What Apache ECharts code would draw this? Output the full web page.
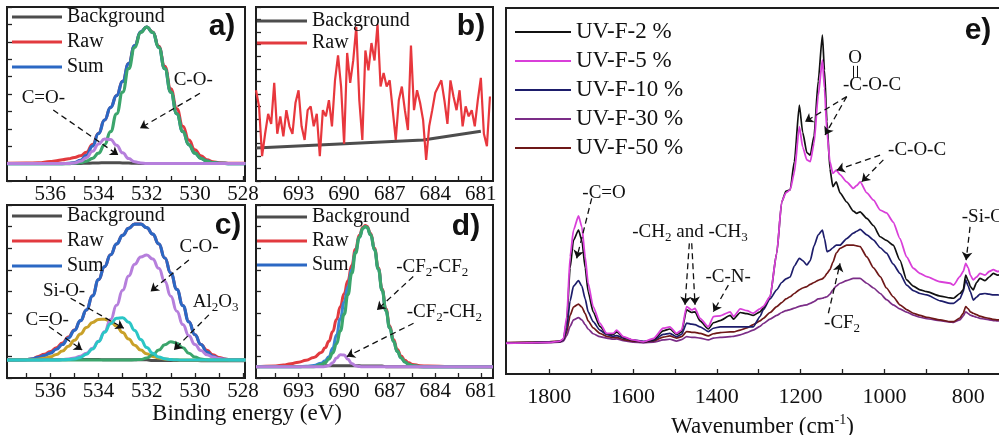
<!DOCTYPE html>
<html>
<head>
<meta charset="utf-8">
<script src="https://cdn.jsdelivr.net/npm/echarts@6/dist/echarts.min.js"></script>
<style>
  html, body { margin: 0; padding: 0; background: #fff; overflow: hidden; }
  #chart { width: 999px; height: 435px; }
</style>
</head>
<body>
<div id="chart"></div>
<script>
// ---------- a) O 1s ----------
const a_energy = [537.8, 537, 536.5, 536, 535.75, 535.5, 535.25, 535, 534.75, 534.5, 534.25, 534, 533.75, 533.5, 533.25, 533, 532.75, 532.5, 532.25, 532, 531.75, 531.5, 531.25, 531, 530.75, 530.5, 530.25, 530, 529.75, 529.5, 529.25, 529, 528.5, 527.9];
const a_background = [1.0, 1.0, 1.0, 1.0, 1.0, 1.0, 1.0, 1.0, 1.01, 1.02, 1.03, 1.04, 1.05, 1.05, 1.05, 1.04, 1.03, 1.02, 1.01, 1.0, 1.0, 1.0, 1.0, 1.0, 1.0, 1.0, 1.0, 1.0, 1.0, 1.0, 1.0, 1.0, 1.0, 1.0];
const a_raw = [1.02, 1.03, 1.05, 1.12, 1.17, 1.22, 1.28, 1.35, 1.45, 1.65, 2.1, 2.75, 3.5, 4.23, 4.91, 5.73, 6.75, 7.78, 8.57, 8.85, 8.56, 7.75, 6.6, 5.3, 4.15, 3.15, 2.35, 1.8, 1.45, 1.22, 1.1, 1.05, 1.02, 1.02];
const a_sum = [1.0, 1.0, 1.0, 1.0, 1.0, 1.0, 1.01, 1.06, 1.19, 1.48, 2.01, 2.73, 3.5, 4.23, 4.91, 5.73, 6.75, 7.78, 8.57, 8.85, 8.54, 7.68, 6.46, 5.11, 3.86, 2.84, 2.08, 1.6, 1.3, 1.14, 1.06, 1.02, 1.0, 1.0];
const a_cO = [1.0, 1.0, 1.0, 1.0, 1.0, 1.0, 1.0, 1.02, 1.06, 1.14, 1.3, 1.6, 2.08, 2.84, 3.86, 5.11, 6.46, 7.68, 8.54, 8.85, 8.54, 7.68, 6.46, 5.11, 3.86, 2.84, 2.08, 1.6, 1.3, 1.14, 1.06, 1.02, 1.0, 1.0];
const a_cdO = [1.0, 1.0, 1.0, 1.0, 1.0, 1.0, 1.01, 1.04, 1.13, 1.34, 1.71, 2.13, 2.42, 2.39, 2.05, 1.62, 1.29, 1.1, 1.03, 1.0, 1.0, 1.0, 1.0, 1.0, 1.0, 1.0, 1.0, 1.0, 1.0, 1.0, 1.0, 1.0, 1.0, 1.0];

// ---------- b) F 1s (sample 1) ----------
const b_energy = [695.8, 695.6, 695.4, 695.2, 695.0, 694.8, 694.6, 694.4, 694.2, 694.0, 693.8, 693.6, 693.4, 693.2, 693.0, 692.8, 692.6, 692.4, 692.2, 692.0, 691.8, 691.6, 691.4, 691.2, 691.0, 690.8, 690.6, 690.4, 690.2, 690.0, 689.8, 689.6, 689.4, 689.2, 689.0, 688.8, 688.6, 688.4, 688.2, 688.0, 687.8, 687.6, 687.4, 687.2, 687.0, 686.8, 686.6, 686.4, 686.2, 686.0, 685.8, 685.6, 685.4, 685.2, 685.0, 684.8, 684.6, 684.4, 684.2, 684.0, 683.8, 683.6, 683.4, 683.2, 683.0, 682.8, 682.6, 682.4, 682.2, 682.0, 681.8, 681.6, 681.4, 681.2, 681.0, 680.8, 680.6, 680.4];
const b_raw = [7.3, 6.0, 2.0, 3.8, 5.4, 4.6, 7.9, 3.8, 5.2, 3.6, 5.7, 4.4, 3.8, 6.3, 7.3, 4.4, 3.3, 5.7, 6.0, 4.4, 5.4, 2.0, 5.7, 5.2, 6.5, 4.4, 8.1, 10.1, 7.6, 3.0, 10.3, 7.9, 9.7, 12.4, 6.5, 3.3, 10.5, 8.9, 11.1, 9.7, 12.6, 7.6, 8.7, 7.6, 8.1, 5.7, 3.3, 6.5, 7.6, 5.7, 4.1, 10.9, 5.7, 7.3, 6.3, 4.9, 1.7, 4.4, 5.7, 7.1, 7.6, 8.1, 6.5, 4.6, 8.1, 6.8, 5.7, 7.3, 4.4, 6.0, 5.2, 5.7, 4.4, 6.5, 8.3, 3.8, 2.8, 6.8];
const b_bgEnergy = [695.8, 684.8, 681.0];
const b_background = [2.65, 3.3, 4.0];

// ---------- c) O 1s (sample 2) ----------
const c_energy = [537.8, 537, 536.75, 536.5, 536.25, 536, 535.75, 535.5, 535.25, 535, 534.75, 534.5, 534.25, 534, 533.75, 533.5, 533.25, 533, 532.75, 532.5, 532.25, 532, 531.75, 531.5, 531.25, 531, 530.75, 530.5, 530.25, 530, 529.75, 529.5, 529.25, 529, 528.75, 528.5, 527.9];
const c_background = [0.86, 0.86, 0.86, 0.86, 0.86, 0.86, 0.86, 0.86, 0.86, 0.86, 0.86, 0.86, 0.86, 0.86, 0.84, 0.84, 0.84, 0.84, 0.84, 0.84, 0.84, 0.84, 0.81, 0.81, 0.81, 0.81, 0.81, 0.81, 0.81, 0.81, 0.80, 0.80, 0.80, 0.80, 0.80, 0.80, 0.80];
const c_raw = [0.83, 0.85, 0.88, 1.0, 1.1, 1.22, 1.4, 1.62, 1.9, 2.22, 2.65, 3.15, 3.8, 4.55, 5.15, 5.7, 6.2, 6.6, 6.92, 7.12, 7.12, 6.95, 6.65, 6.2, 5.55, 4.85, 4.1, 3.35, 2.6, 2.0, 1.55, 1.28, 1.08, 0.95, 0.88, 0.84, 0.83];
const c_sum = [0.83, 0.85, 0.88, 0.95, 1.04, 1.15, 1.33, 1.55, 1.85, 2.2, 2.65, 3.15, 3.8, 4.55, 5.15, 5.7, 6.2, 6.6, 6.92, 7.12, 7.12, 6.95, 6.65, 6.2, 5.55, 4.85, 4.1, 3.35, 2.6, 2.0, 1.55, 1.2, 1.0, 0.9, 0.86, 0.84, 0.83];
const c_cdO = [0.83, 0.84, 0.85, 0.87, 0.91, 0.98, 1.09, 1.25, 1.47, 1.74, 2.04, 2.33, 2.57, 2.71, 2.72, 2.60, 2.39, 2.10, 1.80, 1.52, 1.29, 1.12, 1.00, 0.92, 0.88, 0.85, 0.84, 0.83, 0.83, 0.83, 0.83, 0.83, 0.83, 0.83, 0.83, 0.83, 0.83];
const c_cO = [0.83, 0.83, 0.83, 0.83, 0.84, 0.84, 0.84, 0.85, 0.88, 0.92, 1.01, 1.15, 1.37, 1.70, 2.14, 2.70, 3.36, 4.06, 4.72, 5.26, 5.60, 5.69, 5.50, 5.07, 4.47, 3.78, 3.09, 2.47, 1.95, 1.55, 1.27, 1.08, 0.97, 0.90, 0.86, 0.84, 0.83];
const c_al2o3 = [0.83, 0.83, 0.83, 0.83, 0.83, 0.83, 0.83, 0.83, 0.83, 0.83, 0.83, 0.83, 0.83, 0.83, 0.83, 0.83, 0.83, 0.83, 0.83, 0.84, 0.86, 0.92, 1.07, 1.29, 1.54, 1.68, 1.61, 1.40, 1.15, 0.97, 0.88, 0.84, 0.83, 0.83, 0.83, 0.83, 0.83];
const c_siO = [0.83, 0.83, 0.83, 0.83, 0.83, 0.83, 0.83, 0.84, 0.85, 0.88, 0.95, 1.10, 1.34, 1.69, 2.11, 2.51, 2.76, 2.79, 2.58, 2.20, 1.78, 1.41, 1.14, 0.97, 0.89, 0.85, 0.84, 0.83, 0.83, 0.83, 0.83, 0.83, 0.83, 0.83, 0.83, 0.83, 0.83];

// ---------- d) F 1s (sample 2) ----------
const d_energy = [695.8, 694.5, 694, 693.5, 693, 692.5, 692, 691.5, 691.25, 691, 690.75, 690.5, 690.25, 690, 689.75, 689.5, 689.25, 689, 688.75, 688.6, 688.5, 688.25, 688, 687.75, 687.5, 687.25, 687, 686.75, 686.5, 686.25, 686, 685.75, 685.5, 685, 684.5, 683, 680.2];
const d_background = [0.53, 0.53, 0.53, 0.53, 0.53, 0.53, 0.53, 0.53, 0.57, 0.57, 0.57, 0.57, 0.57, 0.57, 0.57, 0.57, 0.57, 0.57, 0.55, 0.55, 0.55, 0.55, 0.55, 0.55, 0.55, 0.52, 0.52, 0.52, 0.52, 0.52, 0.52, 0.52, 0.52, 0.52, 0.52, 0.52, 0.52];
const d_raw = [0.52, 0.55, 0.6, 0.66, 0.73, 0.82, 0.95, 1.18, 1.4, 1.7, 2.15, 2.7, 3.3, 3.9, 4.5, 5.2, 5.95, 6.6, 6.98, 7.05, 7.02, 6.68, 6.0, 5.1, 4.12, 3.2, 2.4, 1.78, 1.32, 1.02, 0.82, 0.7, 0.63, 0.57, 0.55, 0.53, 0.52];
const d_sum = [0.52, 0.52, 0.52, 0.52, 0.52, 0.54, 0.58, 0.68, 0.8, 0.98, 1.38, 1.99, 2.74, 3.49, 4.21, 4.99, 5.82, 6.51, 6.93, 7.0, 6.97, 6.62, 5.93, 5.04, 4.06, 3.12, 2.32, 1.69, 1.23, 0.93, 0.74, 0.63, 0.57, 0.53, 0.52, 0.52, 0.52];
const d_cf2cf2 = [0.52, 0.52, 0.52, 0.52, 0.52, 0.52, 0.52, 0.62, 0.71, 0.88, 1.16, 1.58, 2.18, 2.95, 3.86, 4.84, 5.77, 6.50, 6.93, 7.0, 6.97, 6.62, 5.93, 5.04, 4.06, 3.12, 2.32, 1.69, 1.23, 0.93, 0.74, 0.63, 0.57, 0.53, 0.52, 0.52, 0.52];
const d_cf2ch2 = [0.52, 0.52, 0.52, 0.52, 0.52, 0.52, 0.52, 0.52, 0.53, 0.58, 0.71, 0.92, 1.08, 1.06, 0.87, 0.67, 0.57, 0.53, 0.52, 0.52, 0.52, 0.52, 0.52, 0.52, 0.52, 0.52, 0.52, 0.52, 0.52, 0.52, 0.52, 0.52, 0.52, 0.52, 0.52, 0.52, 0.52];

// ---------- e) FTIR ----------
const wavenumber = [1903, 1850, 1800, 1775, 1766, 1758, 1750, 1742, 1730, 1722, 1714, 1707, 1695, 1679, 1663, 1647, 1639, 1623, 1600, 1575, 1551, 1528, 1512, 1496, 1484, 1472, 1460, 1452, 1440, 1420, 1408, 1392, 1368, 1360, 1344, 1328, 1313, 1297, 1289, 1273, 1257, 1245, 1235, 1225, 1215, 1203, 1195, 1185, 1177, 1168, 1158, 1148, 1143, 1137, 1130, 1123, 1115, 1106, 1090, 1074, 1066, 1058, 1042, 1026, 1010, 995, 979, 963, 947, 931, 915, 899, 867, 843, 835, 820, 812, 806, 800, 795, 788, 780, 772, 760, 750, 740, 730, 717];
const uvF2 = [8.4, 8.5, 8.6, 8.8, 9.5, 14.5, 29, 36.5, 39.3, 36.5, 29, 22.5, 17.0, 13.0, 11.0, 10.8, 11.5, 10.0, 9.2, 8.7, 9.4, 11.8, 12.3, 10.8, 11.5, 17.5, 16.8, 17.0, 14.5, 12.3, 14.0, 14.6, 16.0, 15.0, 16.8, 16.5, 16.0, 17.0, 18.0, 21.0, 33.0, 47.0, 50.0, 50.3, 58.0, 73.5, 66.0, 60.5, 59.8, 65.0, 80.0, 92.6, 83.0, 69.0, 56.0, 51.2, 52.5, 49.5, 47.0, 44.5, 43.9, 44.3, 42.5, 40.5, 37.5, 36.5, 35.2, 31.1, 25.7, 24.0, 23.0, 22.5, 21.3, 20.8, 20.7, 22.0, 23.0, 27.0, 25.5, 23.9, 23.0, 25.0, 26.1, 25.5, 26.5, 27.5, 27.0, 27.5];
const uvF5 = [8.4, 8.5, 8.6, 8.9, 9.6, 15.7, 32, 39.3, 43.2, 40.2, 32, 24.8, 18.4, 13.9, 11.1, 11.1, 12.0, 10.2, 9.3, 8.8, 9.7, 12.5, 12.9, 11.1, 12.0, 18.4, 17.5, 17.9, 15.2, 12.9, 15.7, 15.9, 17.0, 15.7, 17.8, 17.3, 16.6, 17.8, 18.5, 21.1, 33.0, 47.1, 49.5, 50.3, 55.0, 67.6, 62.0, 58.5, 58.0, 63.0, 76.0, 85.8, 78.0, 66.0, 58.0, 54.8, 55.7, 54.5, 52.5, 50.7, 51.5, 52.5, 49.5, 47.5, 44.8, 44.0, 41.5, 37.0, 32.0, 28.9, 27.5, 26.6, 25.2, 24.8, 24.3, 26.6, 28.0, 30.2, 29.0, 27.0, 25.7, 26.5, 27.5, 27.0, 28.0, 28.5, 28.0, 28.5];
const uvF10 = [8.5, 8.6, 8.7, 8.9, 9.3, 12.5, 20, 24.0, 25.5, 24.0, 20.5, 17.0, 14.3, 12.0, 10.8, 10.3, 10.5, 9.8, 9.3, 8.9, 9.2, 10.8, 11.1, 10.2, 10.8, 13.9, 13.6, 13.5, 12.9, 11.6, 12.5, 12.9, 12.9, 12.9, 12.9, 12.9, 12.9, 15.7, 17.5, 20.5, 23.0, 25.0, 26.0, 26.5, 29.5, 31.6, 31.0, 29.8, 31.0, 35.0, 38.0, 39.3, 37.0, 33.4, 33.8, 34.5, 35.2, 35.2, 37.0, 38.5, 39.0, 39.5, 38.0, 36.6, 34.5, 33.0, 30.0, 27.5, 24.3, 22.8, 22.0, 21.6, 20.0, 19.3, 19.3, 20.5, 22.5, 25.7, 24.0, 22.5, 20.2, 21.0, 21.8, 22.0, 21.8, 21.6, 21.6, 21.5];
const uvF30 = [8.4, 8.5, 8.6, 8.7, 9.0, 10.5, 13.0, 14.8, 15.4, 14.8, 13.5, 12.3, 11.0, 10.2, 9.8, 9.5, 9.6, 9.1, 8.7, 8.5, 8.7, 9.3, 9.5, 9.0, 9.4, 10.2, 10.0, 10.0, 9.8, 9.3, 9.8, 10.0, 10.2, 10.3, 10.7, 11.3, 12.0, 13.0, 13.8, 15.0, 16.0, 16.8, 17.3, 17.6, 18.0, 18.5, 18.7, 18.9, 19.3, 19.8, 20.5, 20.7, 20.9, 21.1, 21.8, 23.0, 24.0, 24.8, 25.5, 26.1, 26.1, 26.1, 24.8, 23.5, 22.0, 20.3, 18.9, 17.8, 16.9, 16.1, 15.5, 15.1, 14.6, 14.2, 14.1, 14.8, 15.8, 17.0, 16.5, 16.1, 15.8, 15.5, 15.2, 15.0, 14.8, 14.6, 14.5, 14.4];
const uvF50 = [8.6, 8.7, 8.8, 9.0, 9.3, 11.5, 16.0, 18.3, 19.1, 18.3, 16.5, 14.5, 12.6, 11.1, 10.3, 9.9, 10.0, 9.4, 9.0, 8.8, 9.0, 10.1, 10.4, 9.8, 10.2, 11.6, 11.4, 11.4, 11.1, 10.4, 11.0, 11.3, 11.5, 11.5, 12.0, 12.6, 13.5, 14.5, 15.2, 16.8, 18.4, 19.5, 20.5, 21.1, 22.0, 23.0, 23.5, 23.9, 24.5, 25.0, 25.6, 26.0, 26.5, 27.5, 28.5, 30.5, 33.0, 34.3, 35.2, 35.2, 35.0, 34.8, 32.0, 29.0, 26.6, 23.5, 21.1, 18.9, 17.6, 16.6, 16.0, 15.5, 14.8, 14.3, 14.3, 15.3, 16.6, 18.4, 17.8, 17.0, 16.6, 16.2, 15.8, 15.4, 15.2, 14.9, 14.8, 14.7];

// tick and label positions
const xpsOTicks = [528, 529, 530, 531, 532, 533, 534, 535, 536, 537];
const xpsOLabels = [528, 530, 532, 534, 536];
const xpsFTicks = [681, 682.5, 684, 685.5, 687, 688.5, 690, 691.5, 693, 694.5];
const xpsFLabels = [681, 684, 687, 690, 693];
const irTicks = [800, 900, 1000, 1100, 1200, 1300, 1400, 1500, 1600, 1700, 1800];
const irLabels = [800, 1000, 1200, 1400, 1600, 1800];

const SERIF = '"Liberation Serif", "Times New Roman", serif';
const SANS = '"Liberation Sans", Arial, sans-serif';
const INK = '#111';

const pairs = (xs, ys) => xs.map((x, i) => [x, ys[i]]);

function curve(name, idx, xs, ys, color, width, extra) {
  return Object.assign({
    type: 'line', name: name, xAxisIndex: idx, yAxisIndex: idx,
    data: pairs(xs, ys), symbol: 'none', showSymbol: false,
    smooth: 0.5, smoothMonotone: 'x',
    lineStyle: { color: color, width: width }, itemStyle: { color: color },
    emphasis: { disabled: true }, silent: true, animation: false
  }, extra || {});
}

const noteRich = {
  n: { fontFamily: SERIF, fontSize: 19, color: INK, lineHeight: 24 },
  s: { fontFamily: SERIF, fontSize: 13, color: INK, lineHeight: 13, verticalAlign: 'bottom' }
};

function arrows(list) {
  return {
    silent: true, animation: false,
    symbol: ['none', 'arrow'], symbolSize: 8,
    lineStyle: { type: [6, 4], color: INK, width: 1.3 },
    label: { show: false }, emphasis: { disabled: true },
    data: list.map(a => [{ coord: [a[0], a[1]] }, { coord: [a[2], a[3]] }])
  };
}

function notes(list) {
  return {
    silent: true, animation: false, symbol: 'circle', symbolSize: 0,
    itemStyle: { color: 'rgba(0,0,0,0)' },
    data: list.map(t => ({
      coord: [t[0], t[1]],
      label: { show: true, position: 'inside', formatter: t[2], rich: noteRich, color: INK }
    }))
  };
}

const plainNumber = v => String(v);

function xpsXAxis(idx, min, max, ticks, labels) {
  return {
    gridIndex: idx, type: 'value', min: min, max: max, inverse: true,
    axisLine: { show: false },
    axisTick: { show: true, inside: true, length: 5, customValues: ticks, lineStyle: { color: '#222', width: 1.3 } },
    axisLabel: { show: true, customValues: labels, formatter: plainNumber, margin: 3, fontFamily: SERIF, fontSize: 21, color: INK },
    splitLine: { show: false }
  };
}

function plainYAxis(idx, max, ticks) {
  return {
    gridIndex: idx, type: 'value', min: 0, max: max, interval: 1,
    axisLine: { show: false },
    axisTick: { show: ticks, inside: true, length: 5, lineStyle: { color: '#222', width: 1.3 } },
    axisLabel: { show: false }, splitLine: { show: false }
  };
}

function xpsLegend(left, top, gap, names) {
  return {
    orient: 'vertical', left: left, top: top, padding: 0,
    icon: 'rect', itemWidth: 50, itemHeight: 3, itemGap: gap, selectedMode: false,
    data: names,
    textStyle: { fontFamily: SERIF, fontSize: 20, color: INK, lineHeight: 22 }
  };
}

const frame = { show: true, borderColor: '#1e1e1e', borderWidth: 2, backgroundColor: 'transparent', outerBoundsMode: 'none', containLabel: false };

const GRAY = '#4d4d4d', RED = '#e23a3f', BLUE = '#2b68c4', GREEN = '#3ba56c',
      LILAC = '#b67fdc', GOLD = '#c9a129', CYAN = '#2bc6c6';

const option = {
  animation: false,
  backgroundColor: '#fff',
  grid: [
    Object.assign({ left: 7, top: 7, width: 238, height: 174 }, frame),
    Object.assign({ left: 256, top: 7, width: 237, height: 174 }, frame),
    Object.assign({ left: 7, top: 205, width: 238, height: 173 }, frame),
    Object.assign({ left: 256, top: 205, width: 237, height: 173 }, frame),
    Object.assign({ left: 506, top: 8, width: 497, height: 366 }, frame)
  ],
  xAxis: [
    xpsXAxis(0, 527.92, 537.8, xpsOTicks, xpsOLabels),
    xpsXAxis(1, 680.2, 695.8, xpsFTicks, xpsFLabels),
    xpsXAxis(2, 527.92, 537.8, xpsOTicks, xpsOLabels),
    xpsXAxis(3, 680.2, 695.8, xpsFTicks, xpsFLabels),
    {
      gridIndex: 4, type: 'value', min: 717, max: 1903, inverse: true,
      axisLine: { show: false },
      axisTick: { show: true, inside: true, length: 5, customValues: irTicks, lineStyle: { color: '#222', width: 1.3 } },
      axisLabel: { show: true, customValues: irLabels, formatter: plainNumber, margin: 12, fontFamily: SERIF, fontSize: 22, color: INK },
      splitLine: { show: false },
      name: '{n|Wavenumber (cm}{p|-1}{n|)}', nameLocation: 'middle', nameGap: 37,
      nameTextStyle: {
        padding: [0, 0, 0, 16],
        rich: {
          n: { fontFamily: SERIF, fontSize: 23, color: INK, lineHeight: 28 },
          p: { fontFamily: SERIF, fontSize: 14, color: INK, lineHeight: 14, verticalAlign: 'top' }
        }
      }
    }
  ],
  yAxis: [
    plainYAxis(0, 10, true),
    plainYAxis(1, 14, true),
    plainYAxis(2, 8, true),
    plainYAxis(3, 8, true),
    plainYAxis(4, 100, false)
  ],
  legend: [
    xpsLegend(12, 6, 3, ['Background', 'Raw', 'Sum']),
    xpsLegend(257, 10, 0, ['Background', 'Raw']),
    xpsLegend(12, 205, 3, ['Background', 'Raw', 'Sum']),
    xpsLegend(257, 206, 2, ['Background', 'Raw', 'Sum']),
    {
      orient: 'vertical', left: 515, top: 20, padding: 0,
      icon: 'rect', itemWidth: 56, itemHeight: 2, itemGap: 5, selectedMode: false,
      data: ['UV-F-2 %', 'UV-F-5 %', 'UV-F-10 %', 'UV-F-30 %', 'UV-F-50 %'],
      textStyle: { fontFamily: SERIF, fontSize: 23, color: INK, lineHeight: 24 }
    }
  ],
  graphic: [
    { type: 'text', x: 222, y: 27, style: { text: 'a)', font: 'bold 30px ' + SANS, fill: INK, textAlign: 'center', textVerticalAlign: 'middle', verticalAlign: 'middle' } },
    { type: 'text', x: 471, y: 27, style: { text: 'b)', font: 'bold 30px ' + SANS, fill: INK, textAlign: 'center', textVerticalAlign: 'middle', verticalAlign: 'middle' } },
    { type: 'text', x: 228, y: 226, style: { text: 'c)', font: 'bold 30px ' + SANS, fill: INK, textAlign: 'center', textVerticalAlign: 'middle', verticalAlign: 'middle' } },
    { type: 'text', x: 466, y: 227, style: { text: 'd)', font: 'bold 30px ' + SANS, fill: INK, textAlign: 'center', textVerticalAlign: 'middle', verticalAlign: 'middle' } },
    { type: 'text', x: 978, y: 31, style: { text: 'e)', font: 'bold 30px ' + SANS, fill: INK, textAlign: 'center', textVerticalAlign: 'middle', verticalAlign: 'middle' } },
    { type: 'text', x: 247, y: 414, style: { text: 'Binding energy (eV)', font: '23px ' + SERIF, fill: INK, textAlign: 'center', textVerticalAlign: 'middle', verticalAlign: 'middle' } }
  ],
  series: [
    // a)
    curve('Background', 0, a_energy, a_background, GRAY, 3),
    curve('Raw', 0, a_energy, a_raw, RED, 3),
    curve('Sum', 0, a_energy, a_sum, BLUE, 3.2),
    curve('C-O-', 0, a_energy, a_cO, GREEN, 3.2),
    curve('C=O-', 0, a_energy, a_cdO, LILAC, 3, {
      markLine: arrows([[529.79, 5.04, 532.28, 3.03], [535.88, 4.08, 533.18, 1.49]]),
      markPoint: notes([[530.07, 5.8, '{n|C-O-}'], [536.29, 4.75, '{n|C=O-}']])
    }),
    // b)
    curve('Background', 1, b_bgEnergy, b_background, GRAY, 3, { smooth: false }),
    curve('Raw', 1, b_energy, b_raw, '#e8373d', 2.2, { smooth: false }),
    // c)
    curve('Background', 2, c_energy, c_background, GRAY, 3),
    curve('Raw', 2, c_energy, c_raw, RED, 3),
    curve('Sum', 2, c_energy, c_sum, BLUE, 3.2),
    curve('C=O-', 2, c_energy, c_cdO, GOLD, 3),
    curve('C-O-', 2, c_energy, c_cO, LILAC, 3),
    curve('Al2O3', 2, c_energy, c_al2o3, GREEN, 3),
    curve('Si-O-', 2, c_energy, c_siO, CYAN, 3, {
      markLine: arrows([
        [530.25, 5.46, 531.84, 4.0],
        [535.16, 3.69, 532.95, 2.3],
        [536.06, 2.38, 534.68, 1.30],
        [529.42, 2.92, 530.87, 1.30]
      ]),
      markPoint: notes([
        [529.83, 6.08, '{n|C-O-}'],
        [535.43, 4.0, '{n|Si-O-}'],
        [536.13, 2.69, '{n|C=O-}'],
        [529.14, 3.53, '{n|Al}{s|2}{n|O}{s|3}']
      ])
    }),
    // d)
    curve('Background', 3, d_energy, d_background, GRAY, 3),
    curve('Raw', 3, d_energy, d_raw, RED, 3),
    curve('Sum', 3, d_energy, d_sum, '#3786d2', 3),
    curve('-CF2-CF2', 3, d_energy, d_cf2cf2, GREEN, 3.2),
    curve('-CF2-CH2', 3, d_energy, d_cf2ch2, LILAC, 3, {
      markLine: arrows([[685.45, 4.69, 687.84, 3.15], [685.43, 2.53, 689.82, 0.99]]),
      markPoint: notes([
        [684.2, 5.14, '{n|-CF}{s|2}{n|-CF}{s|2}'],
        [683.4, 3.07, '{n|-CF}{s|2}{n|-CH}{s|2}']
      ])
    }),
    // e)
    curve('UV-F-30 %', 4, wavenumber, uvF30, '#7b2d87', 1.7, { smooth: 0.2 }),
    curve('UV-F-50 %', 4, wavenumber, uvF50, '#6e1818', 1.7, { smooth: 0.2 }),
    curve('UV-F-10 %', 4, wavenumber, uvF10, '#1d1d6b', 1.7, { smooth: 0.2 }),
    curve('UV-F-2 %', 4, wavenumber, uvF2, '#111111', 1.7, {
      smooth: 0.2,
      markLine: {
        silent: true, animation: false, symbol: ['none', 'none'],
        lineStyle: { type: 'solid', color: INK, width: 1 }, label: { show: false },
        emphasis: { disabled: true },
        data: [
          [{ coord: [1074.8, 84.2] }, { coord: [1074.8, 80.9] }],
          [{ coord: [1065.3, 84.2] }, { coord: [1065.3, 80.9] }]
        ]
      }
    }),
    curve('UV-F-5 %', 4, wavenumber, uvF5, '#d93fd9', 1.8, {
      smooth: 0.2,
      markLine: arrows([
        [1698.5, 48, 1734.3, 31.6],
        [1465.5, 35.7, 1475.8, 18.9],
        [1459.8, 35.7, 1451.9, 18.9],
        [1372.4, 24.3, 1408.2, 17.0],
        [1133.7, 16.6, 1105.9, 30.2],
        [795.6, 40.2, 805, 31.1],
        [1089.9, 75.8, 1189.4, 68.9],
        [1089.9, 75.8, 1141.7, 65.3],
        [1010.4, 59.8, 1113.8, 55.7],
        [1002.5, 58.5, 1054.1, 52.5]
      ]),
      markPoint: notes([
        [1669, 49.5, '{n|-C=O}'],
        [1464, 38.9, '{n|-CH}{s|2}{n| and -CH}{s|3}'],
        [1373, 26.6, '{n|-C-N-}'],
        [1101, 13.9, '{n|-CF}{s|2}'],
        [757.4, 42.9, '{n|-Si-O-}'],
        [1070, 86.3, '{n|O}'],
        [1029.5, 79, '{n|-C-O-C}'],
        [922, 61.2, '{n|-C-O-C}']
      ])
    })
  ]
};

const chart = echarts.init(document.getElementById('chart'), null, { renderer: 'canvas' });
chart.setOption(option);
</script>
</body>
</html>
